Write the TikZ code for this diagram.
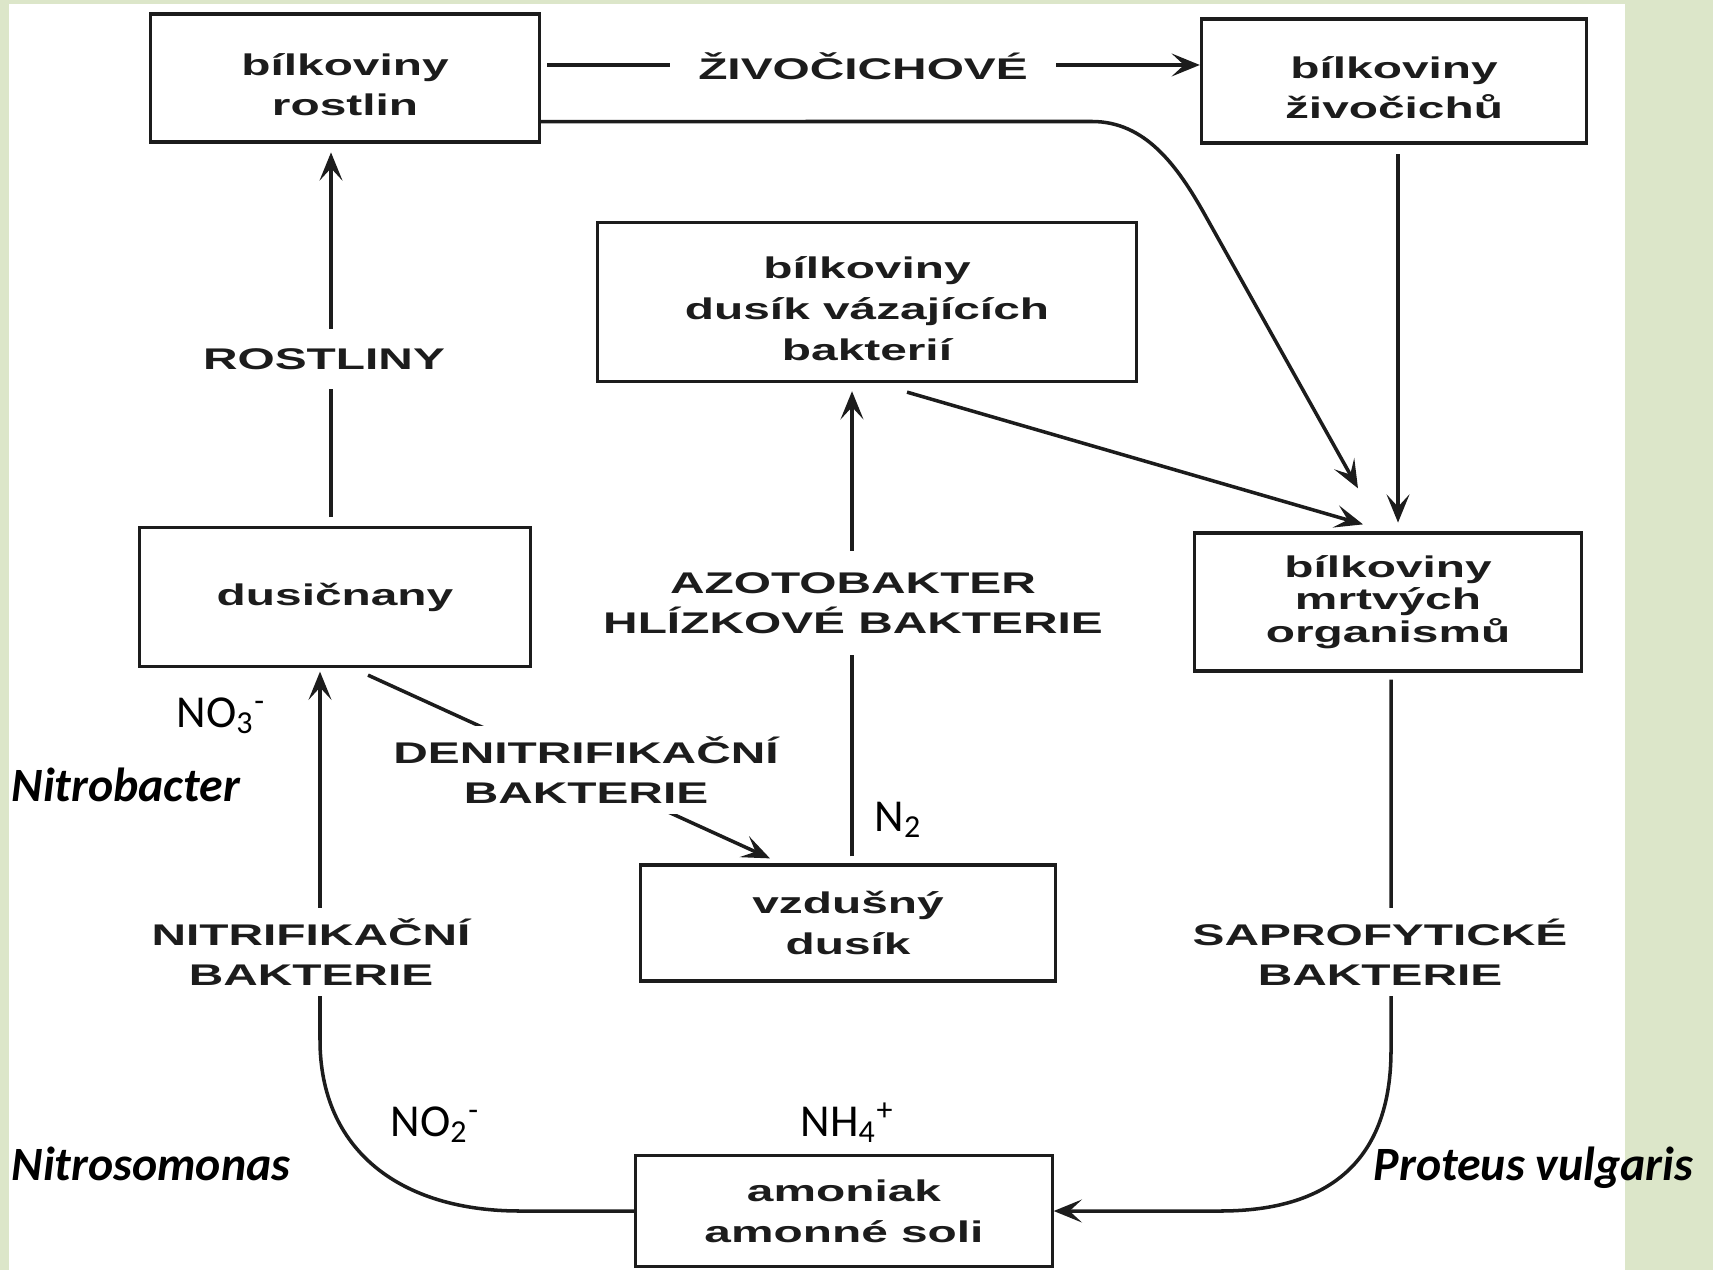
\documentclass[tikz,border=0pt]{standalone}
\usepackage{fontspec}
\setmainfont{Liberation Sans}
\newfontfamily\labfont{Liberation Sans}[FakeStretch=1.6]
\newfontfamily\chemfont{Carlito}
\usetikzlibrary{arrows.meta,calc}
\definecolor{bggreen}{HTML}{DCE6C9}
\definecolor{inkc}{HTML}{1C1C1C}
\newcommand\tup{\rule{0pt}{10pt}}
\begin{document}
\begin{tikzpicture}[x=0.01cm,y=-0.01cm,
  box/.style={draw=inkc, line width=0.9pt, fill=white, align=center, inner sep=0pt,
    font=\labfont\bfseries\fontsize{8.5}{11.6}\selectfont, text=inkc},
  lab/.style={fill=white, align=center, inner xsep=2pt, inner ysep=3pt,
    font=\labfont\bfseries\fontsize{8.5}{11.4}\selectfont, text=inkc},
  arr/.style={draw=inkc, line width=1pt, -{Stealth[length=8pt,width=6.5pt,inset=3.5pt]}},
  chem/.style={font=\chemfont\fontsize{13}{15}\selectfont, anchor=base west, inner sep=0pt},
  gen/.style={font=\chemfont\bfseries\itshape\fontsize{13.6}{16}\selectfont, anchor=base west, inner sep=0pt}]
\path[use as bounding box] (0,0) rectangle (1713,1270);
\fill[bggreen] (0,0) rectangle (1713,1270);
\fill[white] (9,4) rectangle (1625,1270);

% boxes
\node[box, minimum width=3.89cm, minimum height=1.28cm] (br) at (345,78) {\tup bílkoviny\\rostlin};
\node[box, minimum width=3.85cm, minimum height=1.24cm] (bz) at (1394,81) {\tup bílkoviny\\živočichů};
\node[box, minimum width=5.38cm, minimum height=1.59cm] (bd) at (867,302) {\tup bílkoviny\\dusík vázajících\\bakterií};
\node[box, minimum width=3.91cm, minimum height=1.39cm] (dus) at (335,597) {dusičnany};
\node[box, minimum width=3.86cm, minimum height=1.38cm] (bm) at (1388,602) {bílkoviny\\[-2.3pt]mrtvých\\[-2.3pt]organismů};
\node[box, minimum width=4.15cm, minimum height=1.16cm] (vd) at (848,923) {vzdušný\\dusík};
\node[box, minimum width=4.16cm, minimum height=1.11cm] (am) at (844,1211) {amoniak\\amonné soli};

% line positions
\coordinate (xR) at (331,0);
\coordinate (xZ) at (1398,0);
\coordinate (xA) at (852,0);
\coordinate (xN) at (320,0);
\coordinate (xS) at (1391,0);

% connectors
\draw[arr, shorten <=1.7pt] ([yshift=0.13cm]br.east) coordinate (zs) -- (zs -| bz.west);
\draw[arr] ([yshift=-0.435cm]br.east) -- (1092,121.5) .. controls (1145,121.5) and (1177,165) .. (1205,215) -- ([xshift=-0.30cm,yshift=0.43cm]bm.north);
\draw[arr, shorten <=2.8pt, shorten >=2.5pt] (bz.south -| xZ) -- (bm.north -| xZ);
\draw[arr] ([xshift=0.40cm,yshift=-0.09cm]bd.south) -- ([xshift=-0.25cm,yshift=0.07cm]bm.north);
\draw[arr, shorten <=2pt, shorten >=2.3pt] (vd.north -| xA) -- (bd.south -| xA);
\draw[arr] ([xshift=0.33cm,yshift=-0.07cm]dus.south) -- ([xshift=-0.78cm,yshift=0.05cm]vd.north);
\draw[arr, shorten >=1pt] (am.west) -- (520,1211) .. controls (400,1211) and (320,1150) .. (320,1040) -- (dus.south -| xN);
\draw[arr, shorten <=2pt] (bm.south -| xS) -- (1391,1050) .. controls (1391,1160) and (1330,1211) .. (1220,1211) -- (am.east);
\draw[arr, shorten <=2.5pt, shorten >=2.5pt] (dus.north -| xR) -- (br.south -| xR);

% labels on connectors
\node[lab, inner xsep=8pt] (lZ) at (863,66) {ŽIVOČICHOVÉ};
\node[lab, inner ysep=5.5pt] (lR) at (324,359) {ROSTLINY};
\node[lab, inner ysep=6pt] (lA) at (853,603) {AZOTOBAKTER\\HLÍZKOVÉ BAKTERIE};
\node[lab] (lD) at (586,770) {DENITRIFIKAČNÍ\\BAKTERIE};
\node[lab] (lN) at (311,952) {NITRIFIKAČNÍ\\BAKTERIE};
\node[lab] (lS) at (1380,952) {SAPROFYTICKÉ\\BAKTERIE};

% chemistry and organisms
\node[chem] (no3) at (176,727) {NO\textsubscript{3}\textsuperscript{-}};
\node[chem] (n2) at (874,831) {N\textsubscript{2}};
\node[chem] (no2) at (390,1136) {NO\textsubscript{2}\textsuperscript{-}};
\node[chem] (nh4) at (800,1136) {NH\textsubscript{4}\textsuperscript{+}};
\node[gen] (g1) at (11,801) {Nitrobacter};
\node[gen] (g2) at (11,1180) {Nitrosomonas};
\node[gen] (g3) at (1373,1180) {Proteus vulgaris};
\end{tikzpicture}
\end{document}
